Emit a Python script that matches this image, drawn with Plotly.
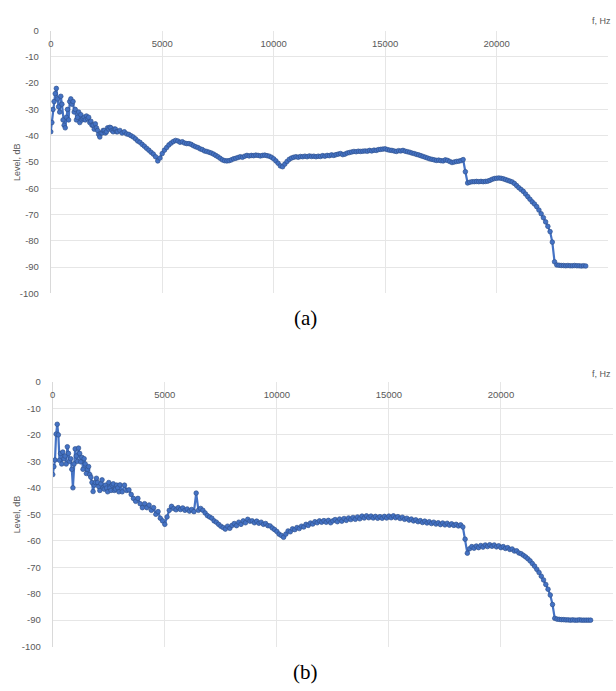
import plotly.graph_objects as go

# Frequency bins, Hz: 50 Hz spacing below 3 kHz, 100 Hz spacing up to 24 kHz
FREQ_HZ = list(range(0, 3000, 50)) + list(range(3000, 24001, 100))

# Spectrum level, dB — recording (a)
LEVEL_A = [
    # 0 .. 2950 Hz (50 Hz step)
    -38.5, -35, -30, -27, -24, -22, -26, -29, -31, -25,
    -28, -34, -36, -37, -33, -30, -34, -27, -26, -28,
    -27, -31, -30, -34, -33, -31, -35, -32, -34, -33.5,
    -33, -34, -32.5, -33.5, -33, -35, -34.5, -36, -36, -37.5,
    -35.5, -37, -38, -39.5, -40.5, -39, -39, -38, -38, -39,
    -38.5, -37, -37.5, -36.8, -37, -38, -38.5, -37.5, -37.5, -38.5,
    # 3000 .. 24000 Hz (100 Hz step)
    -38.5, -38, -39, -38.5, -39.3, -39.5, -40, -40.5, -41.2, -42,
    -42.5, -43.3, -44, -44.8, -45.5, -46.3, -47, -48, -49.6, -48.5,
    -46.8, -45.5, -44.5, -43.5, -42.8, -42.2, -41.8, -42, -42.5, -42.3,
    -42.8, -43, -43, -43.3, -43.8, -44.2, -44.5, -45, -45.3, -45.8,
    -46, -46.3, -46.6, -47, -47.5, -48, -48.6, -49.2, -49.5, -49.6,
    -49.5, -49.2, -48.8, -48.6, -48.3, -48, -48.2, -47.8, -47.5, -47.7,
    -47.5, -47.6, -47.4, -47.5, -47.7, -47.5, -47.4, -47.6, -47.8, -48.2,
    -48.8, -49.6, -50.5, -51.5, -51.8, -50.8, -49.8, -49, -48.5, -48.2,
    -48, -48.2, -47.9, -48, -47.8, -48, -47.7, -47.9, -47.8, -48,
    -47.8, -47.9, -47.6, -47.8, -47.5, -47.6, -47.3, -47.5, -47.2, -47,
    -46.8, -47.2, -47, -46.6, -46.4, -46.2, -46, -46.1, -45.9, -46,
    -45.9, -45.8, -45.9, -45.6, -45.8, -45.5, -45.6, -45.3, -45.2, -45.1,
    -45, -45.3, -45.5, -45.6, -45.8, -46, -45.7, -45.8, -45.6, -45.9,
    -46.1, -46.3, -46.6, -46.8, -47.1, -47.3, -47.6, -47.9, -48.2, -48.5,
    -48.8, -49, -49.2, -49.4, -49.3, -49.5, -49.6, -49.2, -49.4, -49.8,
    -50.2, -50, -49.8, -49.7, -49.5, -49.1, -53.7, -58, -57.7, -57.5,
    -57.5, -57.4, -57.5, -57.4, -57.5, -57.4, -57.3, -57, -56.6, -56.3,
    -56.2, -56.1, -56.2, -56.4, -56.7, -57, -57.3, -57.6, -58.2, -59,
    -59.8, -60.5, -61.2, -62.2, -63.2, -64.2, -65.2, -66, -67, -68.3,
    -69.7, -71.2, -72.8, -74.5, -76.5, -80.5, -88, -89.2, -89.3, -89.4,
    -89.4, -89.5, -89.4, -89.5, -89.5, -89.4, -89.5, -89.5, -89.6, -89.5,
    -89.6,
]

# Spectrum level, dB — recording (b)
LEVEL_B = [
    # 0 .. 2950 Hz (50 Hz step)
    -35, -32, -29.5, -19.7, -16, -20, -29.6, -27, -31, -26.5,
    -29, -28, -31, -24.5, -27, -30, -29, -33, -40, -31,
    -25.3, -28, -30, -25, -27, -30.2, -28.5, -33, -29, -31,
    -34.6, -33, -32, -35, -36, -38, -41.4, -39, -38, -36.4,
    -38, -39.5, -41, -38.5, -37, -40, -40.5, -39, -40.1, -41.5,
    -38, -40, -41, -39, -38.5, -41, -40.5, -39, -40, -41.5,
    # 3000 .. 24000 Hz (100 Hz step)
    -38.9, -41.5, -39, -41, -40.8, -42.5, -44, -45.1, -44, -46,
    -47.5, -46, -47.5, -46.5, -48.5, -47.5, -50, -49, -51.5, -52.5,
    -53.8, -51, -48.5, -47, -47.8, -48.3, -47.5, -48.2, -47.6, -48.5,
    -48, -48.8, -48.2, -49, -42, -48.5, -47.8, -48.5, -49.5, -50.5,
    -51, -51.5, -52.5, -53, -53.8, -54.5, -55, -55.6, -54.5, -55.3,
    -54.2, -53.5, -54.3, -53, -53.8, -52.5, -53.2, -51.9, -52.6, -52.5,
    -53.2, -52.6, -53.4, -53, -53.8, -53.5, -54.3, -54.4, -55.2, -55.8,
    -56.5, -57.5, -58, -58.7, -57.5, -56.3, -56.6, -55.5, -55.8, -55,
    -55.4, -54.5, -54.8, -53.8, -54.2, -53.3, -53.7, -52.8, -53.2, -52.5,
    -53, -52.4, -53, -52.3, -53.2, -52.5, -52, -52.8, -51.8, -52.6,
    -51.6, -52.3, -51.4, -52, -51.2, -51.9, -51, -51.7, -50.7, -51.4,
    -50.6, -51.3, -50.7, -51.4, -50.8, -51.5, -50.9, -51.5, -50.8, -51.4,
    -50.7, -51.3, -50.6, -51.3, -50.9, -51.6, -51.1, -51.9, -51.5, -52.2,
    -51.8, -52.5, -52.1, -52.8, -52.4, -53.1, -52.6, -53.3, -52.8, -53.5,
    -53, -53.7, -53.2, -53.9, -53.3, -54, -53.4, -54.1, -53.6, -54.2,
    -53.8, -54.4, -54, -54.8, -59.4, -64.7, -63, -62.2, -62.8, -62,
    -62.6, -61.8, -62.4, -61.6, -62.2, -61.5, -62.1, -61.6, -62.3, -61.9,
    -62.6, -62.2, -62.9, -62.6, -63.3, -63.1, -63.9, -63.8, -64.6, -64.9,
    -65.5, -66.1, -66.8, -67.6, -68.6, -69.6, -70.8, -72, -73.4, -74.8,
    -76.5, -78.3, -80.5, -84.1, -89.3, -89.6, -89.7, -89.8, -89.8, -89.9,
    -89.9, -90, -89.9, -90, -90, -89.9, -90, -90, -90, -90,
    -90,
]

X_TICKS = [0, 5000, 10000, 15000, 20000, 25000]
X_TICK_TEXT = ["0", "5000", "10000", "15000", "20000", "25000"]
Y_TICKS = [0, -10, -20, -30, -40, -50, -60, -70, -80, -90, -100]
Y_TICK_TEXT = ["0", "-10", "-20", "-30", "-40", "-50", "-60", "-70", "-80", "-90", "-100"]
CAPTIONS = ["(a)", "(b)"]

W, H = 616, 691
LINE_BLUE = "#4472C4"
MARKER_EDGE = "#30538f"
GRID = "#e6e6e6"
AXIS_LINE = "#d9d9d9"
TICK_FONT = dict(family="Liberation Sans, Arial, sans-serif", size=9.5, color="#595959")

fig = go.Figure()
for level, xa, ya in [(LEVEL_A, "x", "y"), (LEVEL_B, "x2", "y2")]:
    fig.add_trace(go.Scatter(
        x=FREQ_HZ, y=level, xaxis=xa, yaxis=ya, mode="lines+markers",
        line=dict(color=LINE_BLUE, width=2.2),
        marker=dict(symbol="circle", size=4.6, color=LINE_BLUE,
                    line=dict(color=MARKER_EDGE, width=0.7)),
        showlegend=False, hoverinfo="skip",
    ))


def px_x(p):
    return p / W


def px_y(p):
    return 1 - p / H


def xaxis_cfg(left, right, label_line):
    # Frequency labels sit just under the 0 dB line, inside the plot area;
    # a label running past the page edge is dropped rather than widening the page
    return dict(
        domain=[px_x(left), px_x(right)], range=[0, 25000],
        anchor="free", position=px_y(label_line), side="bottom",
        tickvals=X_TICKS, ticktext=X_TICK_TEXT, tickfont=TICK_FONT,
        ticks="", showline=False, zeroline=False,
        showgrid=True, gridcolor=GRID, gridwidth=1,
        fixedrange=True,
    )


def yaxis_cfg(top, bottom, anchor):
    return dict(
        domain=[px_y(bottom), px_y(top)], range=[-100, 0], anchor=anchor,
        tickvals=Y_TICKS, ticktext=Y_TICK_TEXT, tickfont=TICK_FONT,
        ticklabelstandoff=9, ticks="",
        showgrid=True, gridcolor=GRID, gridwidth=1,
        showline=True, linecolor=AXIS_LINE, linewidth=1, zeroline=False,
        fixedrange=True,
    )


label_font = dict(family="Liberation Sans, Arial, sans-serif", size=9, color="#595959")
caption_font = dict(family="Liberation Serif, Times New Roman, serif", size=21, color="#000000")

annotations = []
panels = [
    # (plot top px, plot bottom px, "f, Hz" y px, caption y px)
    (25, 292, 15, 317),
    (382, 651, 374, 677),
]
for (top, bottom, fy, cy), cap in zip(panels, CAPTIONS):
    annotations.append(dict(
        text="f, Hz", x=px_x(590), y=px_y(fy), xref="paper", yref="paper",
        xanchor="left", yanchor="middle", showarrow=False, font=label_font,
    ))
    annotations.append(dict(
        text="Level, dB", x=px_x(14), y=px_y((top + bottom) / 2), xref="paper", yref="paper",
        xanchor="center", yanchor="middle", textangle=-90, showarrow=False, font=label_font,
    ))
    annotations.append(dict(
        text=cap, x=px_x(304), y=px_y(cy), xref="paper", yref="paper",
        xanchor="center", yanchor="middle", showarrow=False, font=caption_font,
    ))

fig.update_layout(
    width=W, height=H,
    margin=dict(l=0, r=0, t=0, b=0),
    paper_bgcolor="white", plot_bgcolor="white",
    xaxis=xaxis_cfg(48, 608, 31),
    yaxis=yaxis_cfg(25, 292, "x"),
    xaxis2=xaxis_cfg(50, 613, 388),
    yaxis2=yaxis_cfg(382, 651, "x2"),
    annotations=annotations,
)

fig.write_html("out.html", config={"displayModeBar": False})
